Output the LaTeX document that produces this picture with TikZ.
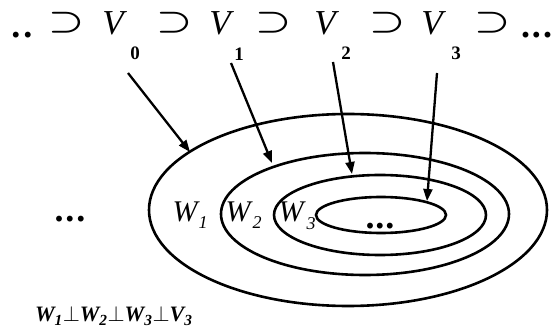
\documentclass[tikz,border=0pt]{standalone}
\usepackage{fix-cm}
\usepackage{graphicx}
\usepackage{fontspec}
\setmainfont{Liberation Serif}
\usetikzlibrary{arrows.meta,shapes.geometric}
\newcommand{\bigsupset}{\scalebox{1.3}[1]{$\supset$}}
\begin{document}
\begin{tikzpicture}[x=1pt,y=-1pt,
  txt/.style={inner sep=0pt,outer sep=0pt},
  bigV/.style={txt,anchor=base,font=\fontsize{35}{35}\selectfont\itshape},
  sup/.style={txt,font=\fontsize{31}{31}\selectfont\boldmath},
  idx/.style={txt,anchor=base,font=\fontsize{19}{19}\selectfont\bfseries},
  wlab/.style={txt,anchor=base,font=\fontsize{30}{30}\selectfont\itshape},
  wsub/.style={txt,anchor=base,font=\fontsize{18}{18}\selectfont\itshape},
  dots/.style={txt,anchor=base,font=\fontsize{36}{36}\selectfont\bfseries},
  ring/.style={ellipse,draw,line width=2.6pt,inner sep=0pt,outer sep=0pt},
  arr/.style={line width=2.3pt,-{Triangle[length=12pt,width=9pt]}}]
\useasboundingbox (0,0) rectangle (552,331);
% top row
\node[dots] (dl) at (22,38) {.\kern3pt.};
\node[sup] (s0) at (67,23) {\bigsupset};
\node[bigV] (v0) at (113,35) {V};
\node[sup] (s1) at (175,23) {\bigsupset};
\node[bigV] (v1) at (220,35) {V};
\node[sup] (s2) at (274,23) {\bigsupset};
\node[bigV] (v2) at (325,35) {V};
\node[sup] (s3) at (388,23) {\bigsupset};
\node[bigV] (v3) at (432,35) {V};
\node[sup] (s4) at (493,23) {\bigsupset};
\node[dots,anchor=base west] (dr) at (521,38) {.\kern2pt.\kern2pt.};
\node[idx] (i0) at (135,60) {0};
\node[idx] (i1) at (239,61) {1};
\node[idx] (i2) at (346,60) {2};
\node[idx] (i3) at (456,60) {3};
% ellipses
\node[ring,minimum width=398pt,minimum height=192pt] (e0) at (348,210) {};
\node[ring,minimum width=288pt,minimum height=122pt] (e1) at (365,214) {};
\node[ring,minimum width=212pt,minimum height=80pt] (e2) at (380,215) {};
\node[ring,minimum width=130pt,minimum height=36pt] (e3) at (381,215) {};
% labels
\node[dots] (dm) at (70,222) {.\kern2pt.\kern2pt.};
\node[wlab] (w1) at (185,222) {W};
\node[wsub] (w1s) at (203,229) {1};
\node[wlab] (w2) at (238,222) {W};
\node[wsub] (w2s) at (257,229) {2};
\node[wlab] (w3) at (291,222) {W};
\node[wsub] (w3s) at (311,230) {3};
\node[dots] (di) at (380,229) {.\kern1pt.\kern1pt.};
% arrows
\coordinate (a0) at (128,73);
\coordinate (t0) at (190,152);
\coordinate (a1) at (231,63);
\coordinate (t1) at (272,163);
\coordinate (a2) at (333,62);
\coordinate (t2) at (352,174);
\coordinate (a3) at (437,73);
\coordinate (t3) at (427,201);
\draw[arr] (a0) -- (t0);
\draw[arr] (a1) -- (t1);
\draw[arr] (a2) -- (t2);
\draw[arr] (a3) -- (t3);
% bottom formula
\node[txt,anchor=base west,font=\fontsize{22}{22}\selectfont\bfseries\itshape] (f) at (35,322)
  {W\textsubscript{1}$\perp$W\textsubscript{2}$\perp$W\textsubscript{3}$\perp$V\textsubscript{3}};
\end{tikzpicture}
\end{document}
